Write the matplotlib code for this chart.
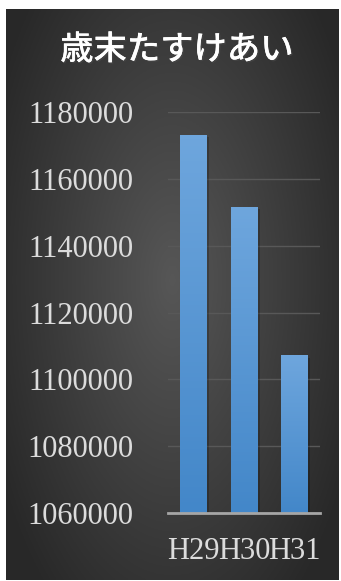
import numpy as np
import matplotlib
matplotlib.use("Agg")
import matplotlib.pyplot as plt
import matplotlib.patheffects as pe

# data
years = ["H29", "H30", "H31"]
amounts = [1173000, 1151500, 1107000]
y_ticks = [1060000, 1080000, 1100000, 1120000, 1140000, 1160000, 1180000]
title = "歳末たすけあい"

W, H = 341, 581
fig = plt.figure(figsize=(W / 100, H / 100), dpi=100)
fig.patch.set_facecolor("white")

# dark panel with radial gradient
bg = fig.add_axes([6 / W, 1 - 580 / H, 333 / W, 571 / H])
yy, xx = np.mgrid[-1:1:300j, -1:1:200j]
r = np.sqrt((xx * 0.9) ** 2 + ((yy + 0.05) * 0.75) ** 2)
shade = np.clip(0.34 - 0.17 * r, 0.16, 0.34)
bg.imshow(np.dstack([shade] * 3), aspect="auto", extent=[0, 1, 0, 1])
bg.axis("off")

fig.text(177 / W, 1 - 50 / H, title, color="white", fontsize=24,
         fontweight="medium", family=["Noto Sans CJK JP", "DejaVu Sans"],
         ha="center", va="center",
         path_effects=[pe.withSimplePatchShadow(offset=(1, -1), alpha=0.5),
                       pe.Normal()])

ax = fig.add_axes([168 / W, 1 - 513 / H, 152 / W, 401 / H])
ax.patch.set_alpha(0)

x = np.arange(len(years))
bars = ax.bar(x, amounts, width=0.53, color="#5b9bd5", zorder=3)

# vertical blue gradient inside each bar
grad = np.linspace(0, 1, 100).reshape(-1, 1)
cmap = matplotlib.colors.LinearSegmentedColormap.from_list("b", ["#4387c9", "#6ea6dd"])
for b in bars:
    x0 = b.get_x()
    ax.imshow(grad, cmap=cmap, origin="lower", aspect="auto",
              extent=[x0, x0 + b.get_width(), 1060000, b.get_height()],
              zorder=3)
    b.set_facecolor("none")
    b.set_path_effects([pe.SimplePatchShadow(offset=(1.5, -1.5), shadow_rgbFace="black", alpha=0.2)])
ax.set_xlim(-0.5, 2.5)
ax.set_ylim(1060000, 1180000)

ax.set_yticks(y_ticks)
ax.set_yticklabels([str(v) for v in y_ticks])
ax.set_xticks(x)
ax.set_xticklabels(years)
ax.grid(axis="y", color="#585858", linewidth=1, zorder=0)
for s in ["top", "right", "left"]:
    ax.spines[s].set_visible(False)
ax.spines["bottom"].set_color("#a6a6a6")
ax.spines["bottom"].set_linewidth(2)
ax.spines["bottom"].set_zorder(4)
ax.tick_params(length=0, labelsize=22)
ax.tick_params(axis="y", pad=25)
ax.tick_params(axis="x", pad=17)
for lab in ax.get_xticklabels() + ax.get_yticklabels():
    lab.set_family("Liberation Serif")
    lab.set_color("#dcdcdc")

fig.savefig("out.png", dpi=100)
